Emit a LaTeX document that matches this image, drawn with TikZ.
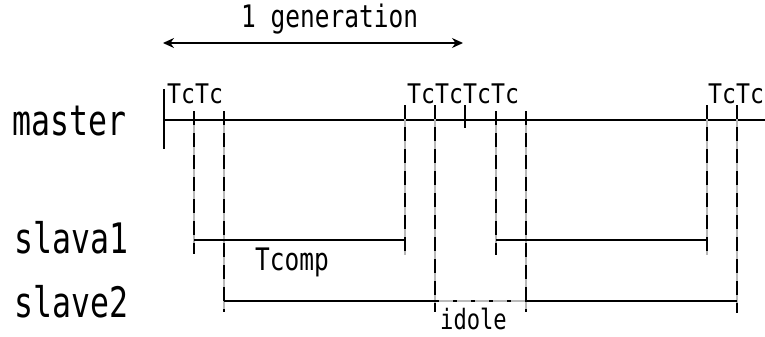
\documentclass[tikz,border=0pt]{standalone}
\usepackage{fontspec}
\usetikzlibrary{arrows.meta}
\newfontfamily\bigfont[FakeStretch=0.75]{DejaVu Sans Mono}
\newfontfamily\gfont[FakeStretch=0.79]{DejaVu Sans Mono}
\newfontfamily\tcfont[FakeStretch=0.86]{DejaVu Sans Mono}
\begin{document}
\begin{tikzpicture}[x=1pt,y=-1pt,
  txt/.style={inner sep=0pt, anchor=base west},
  big/.style={txt, font=\bigfont\fontsize{42pt}{44pt}\selectfont},
  mid/.style={txt, font=\gfont\fontsize{31pt}{34pt}\selectfont},
  tc/.style={txt, font=\tcfont\fontsize{27pt}{30pt}\selectfont},
  mline/.style={line width=1.4pt},
  sline/.style={line width=1.2pt},
  tline/.style={line width=1.3pt, dash pattern=on 14pt off 8pt,
    preaction={draw, gray!55, solid, line width=1.3pt}},
  idleline/.style={line width=1.2pt, dash pattern=on 4pt off 14pt,
    preaction={draw, gray!55, solid, line width=1.2pt}}]
\useasboundingbox (0,0) rectangle (765,337);

% labels
\node[big] (master) at (12,135) {master};
\node[big] (slava1) at (14,253) {slava1};
\node[big] (slave2) at (14,317) {slave2};
\node[mid] (gen) at (241,28) {1 generation};
\node[mid] (tcomp) at (255,270) {Tcomp};
\node[mid,font=\gfont\fontsize{28pt}{30pt}\selectfont] (idole) at (440,329) {idole};
\node[tc] (tc1) at (167,103) {TcTc};
\node[tc] (tc2) at (407,103) {TcTcTcTc};
\node[tc] (tc3) at (708,103) {TcTc};

% generation arrow
\coordinate (ga) at (163,43);
\coordinate (gb) at (463,43);
\draw[line width=1.3pt, {Stealth[length=11pt,width=10pt]}-{Stealth[length=11pt,width=10pt]}] (ga) -- (gb);

% master time line
\coordinate (m0) at (164,120);
\coordinate (m1) at (765,120);
\draw[mline] (m0) -- (m1);
\draw[mline] (164,89) -- (164,149);

% vertical event lines
\draw[tline] (194,111) -- (194,254);
\draw[tline] (224,111) -- (224,312);
\draw[tline] (405,105) -- (405,255);
\draw[tline] (435,105) -- (435,312);
\draw[mline] (465,105) -- (465,128);
\draw[tline] (496,111) -- (496,255);
\draw[tline] (526,111) -- (526,312);
\draw[tline] (707,105) -- (707,255);
\draw[tline] (737,105) -- (737,313);

% slave 1
\draw[sline] (194,240) -- (405,240);
\draw[sline] (496,240) -- (707,240);

% slave 2
\draw[sline] (224,301) -- (435,301);
\draw[idleline] (435,301) -- (526,301);
\draw[sline] (526,301) -- (737,301);
\end{tikzpicture}
\end{document}
